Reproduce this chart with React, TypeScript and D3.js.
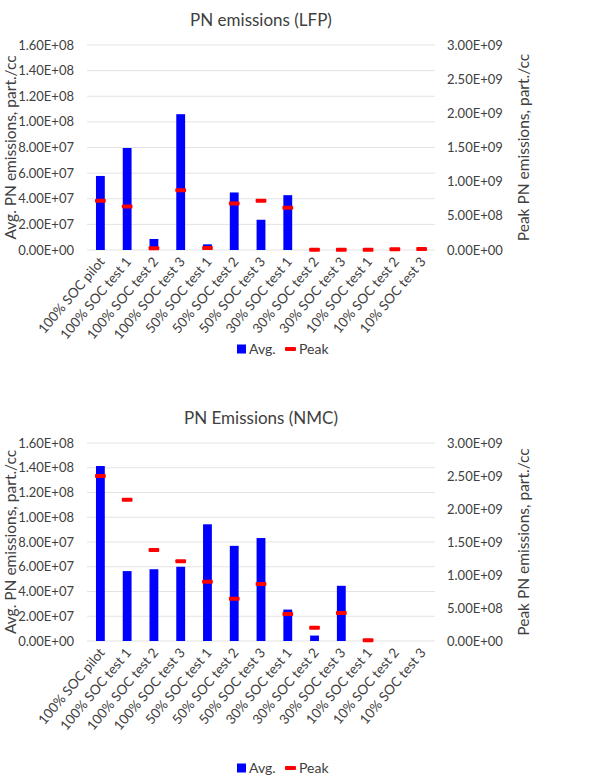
import React from 'react';
import * as d3 from 'd3';

// categories shared by both charts
const categories = [
  '100% SOC pilot', '100% SOC test 1', '100% SOC test 2', '100% SOC test 3',
  '50% SOC test 1', '50% SOC test 2', '50% SOC test 3',
  '30% SOC test 1', '30% SOC test 2', '30% SOC test 3',
  '10% SOC test 1', '10% SOC test 2', '10% SOC test 3',
];

// LFP chart
const lfpAvg = [5.78e7, 7.96e7, 8.6e6, 1.06e8, 4.4e6, 4.49e7, 2.36e7, 4.28e7, 0, 0, 0, 1.0e6, 0];
const lfpPeak = [7.2e8, 6.37e8, 2.5e7, 8.75e8, 2.8e7, 6.8e8, 7.2e8, 6.17e8, 5e6, 3e6, 3e6, 1.0e7, 1.5e7];

// NMC chart
const nmcAvg = [1.414e8, 5.65e7, 5.8e7, 6.0e7, 9.43e7, 7.69e7, 8.32e7, 2.54e7, 4.4e6, 4.46e7, 0, 0, 0];
const nmcPeak = [2.5e9, 2.14e9, 1.38e9, 1.21e9, 8.99e8, 6.41e8, 8.65e8, 4.08e8, 1.99e8, 4.23e8, 1.0e7, null, null];

const leftTicks = [0, 2e7, 4e7, 6e7, 8e7, 1e8, 1.2e8, 1.4e8, 1.6e8];
const rightTicks = [0, 5e8, 1e9, 1.5e9, 2e9, 2.5e9, 3e9];

const FONT = 'Lato, "Noto Sans", sans-serif';
const TEXT = '#404040';

// Excel style 0.00E+00
const sci = (v: number) => {
  if (v === 0) return '0.00E+00';
  const e = Math.floor(Math.log10(v));
  const m = v / Math.pow(10, e);
  return `${m.toFixed(2)}E${e < 0 ? '-' : '+'}${String(Math.abs(e)).padStart(2, '0')}`;
};

type ChartProps = {
  title: string;
  avg: number[];
  peak: (number | null)[];
  top: number;     // y of the 1.6E8 gridline
  bottom: number;  // y of the zero line
  legendY: number;
  titleY: number;
};

const Chart = ({ title, avg, peak, top, bottom, legendY, titleY }: ChartProps) => {
  const x = d3.scaleBand<string>().domain(categories).range([87, 435]).padding(0);
  const yL = d3.scaleLinear().domain([0, 1.6e8]).range([bottom, top]);
  const yR = d3.scaleLinear().domain([0, 3e9]).range([bottom, top]);
  const bw = x.bandwidth() * 0.33;
  const dw = x.bandwidth() * 0.4;
  const mid = (top + bottom) / 2;

  return (
    <g fontFamily={FONT} fill={TEXT}>
      <text x={261} y={titleY} textAnchor="middle" fontSize={17}>{title}</text>

      {leftTicks.map(t => (
        <line key={'g' + t} x1={87} x2={435} y1={yL(t)} y2={yL(t)} stroke="#e3e3e3" strokeWidth={1} />
      ))}

      {leftTicks.map(t => (
        <text key={'l' + t} x={74} y={yL(t)} dy="0.35em" textAnchor="end" fontSize={13}>{sci(t)}</text>
      ))}
      {rightTicks.map(t => (
        <text key={'r' + t} x={447} y={yR(t)} dy="0.35em" textAnchor="start" fontSize={13}>{sci(t)}</text>
      ))}

      <text transform={`translate(11,${mid}) rotate(-90)`} textAnchor="middle" dy="0.35em" fontSize={15.5}>
        Avg. PN emissions, part./cc
      </text>
      <text transform={`translate(524,${mid}) rotate(-90)`} textAnchor="middle" dy="0.35em" fontSize={15.5}>
        Peak PN emissions, part./cc
      </text>

      {avg.map((v, i) => v > 0 ? (
        <rect key={'b' + i}
          x={x(categories[i])! + (x.bandwidth() - bw) / 2}
          y={yL(v)} width={bw} height={bottom - yL(v)} fill="#0000ff" />
      ) : null)}

      {peak.map((v, i) => v == null ? null : (
        <rect key={'p' + i}
          x={x(categories[i])! + (x.bandwidth() - dw) / 2}
          y={yR(v) - 2} width={dw} height={4} rx={1} fill="#ff0000" />
      ))}

      {categories.map(c => (
        <text key={'x' + c} textAnchor="end" fontSize={13.5}
          transform={`translate(${x(c)! + x.bandwidth() / 2 + 5},${bottom + 12}) rotate(-50)`}>
          {c}
        </text>
      ))}

      <g transform={`translate(0,${legendY})`}>
        <rect x={237} y={-4.5} width={9} height={9} fill="#0000ff" />
        <text x={249} y={0} dy="0.35em" fontSize={14}>Avg.</text>
        <rect x={285} y={-2} width={11} height={4} rx={1} fill="#ff0000" />
        <text x={299} y={0} dy="0.35em" fontSize={14}>Peak</text>
      </g>
    </g>
  );
};

export default function App() {
  return (
    <div style={{ position: 'absolute', left: 0, top: 0 }}>
      <svg width={608} height={778} style={{ display: 'block', background: '#fff' }}>
        <Chart title="PN emissions (LFP)" avg={lfpAvg} peak={lfpPeak}
          top={45} bottom={250} titleY={26} legendY={349} />
        <Chart title="PN Emissions (NMC)" avg={nmcAvg} peak={nmcPeak}
          top={443} bottom={641} titleY={424} legendY={768} />
      </svg>
    </div>
  );
}
